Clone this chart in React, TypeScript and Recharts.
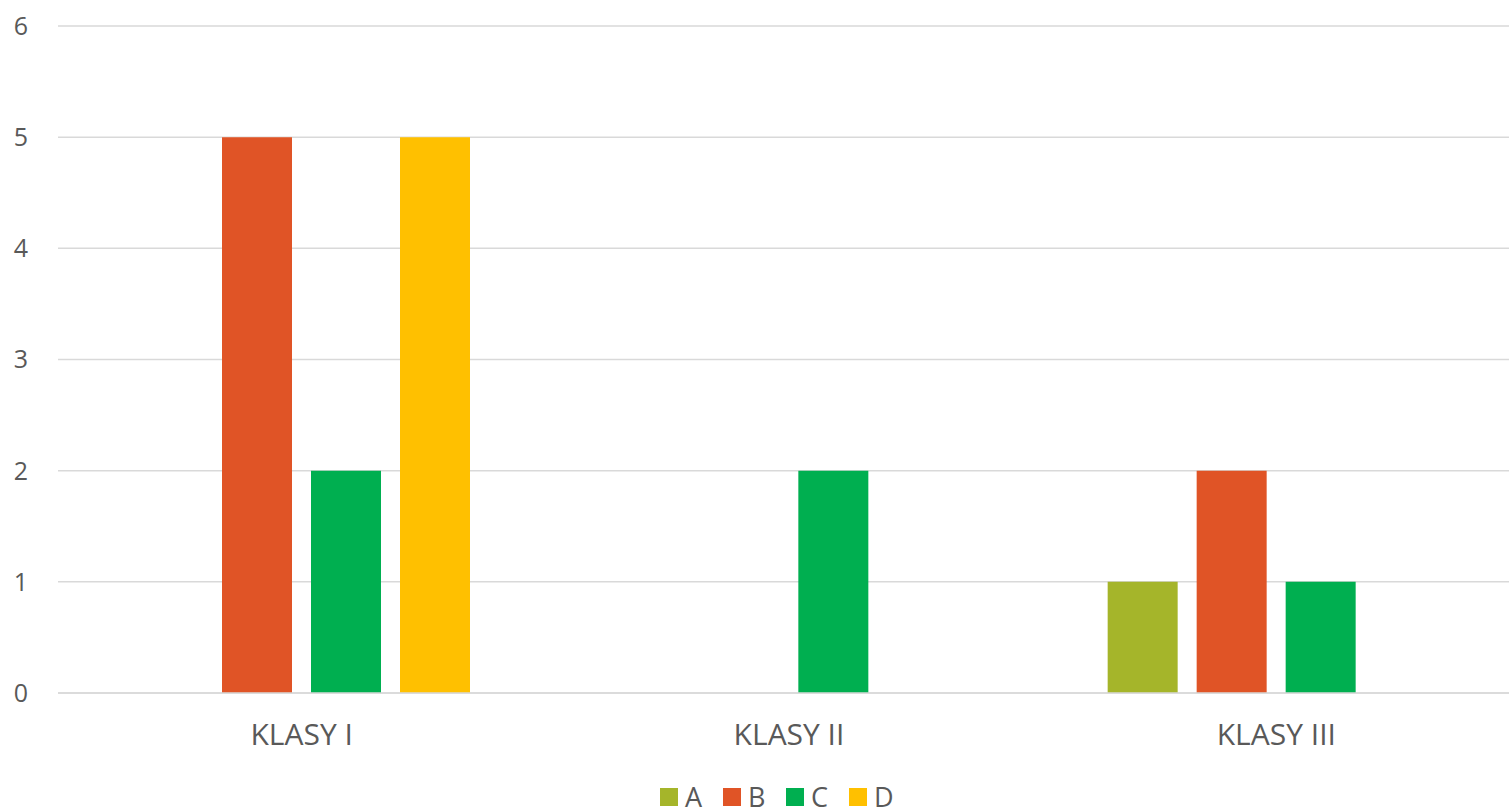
import React from 'react';
import { BarChart, Bar, XAxis, YAxis, CartesianGrid } from 'recharts';

const categories = ['KLASY I', 'KLASY II', 'KLASY III'];
const seriesA = [0, 0, 1];
const seriesB = [5, 0, 2];
const seriesC = [2, 2, 1];
const seriesD = [5, 0, 0];
const yTicks = [0, 1, 2, 3, 4, 5, 6];

const seriesNames = ['A', 'B', 'C', 'D'];
const seriesColors = ['#A5B52A', '#E05426', '#00AF50', '#FFC000'];

const data = categories.map((c, i) => ({
  name: c,
  A: seriesA[i],
  B: seriesB[i],
  C: seriesC[i],
  D: seriesD[i],
}));

const FONT = '"Open Sans", "Noto Sans", sans-serif';
const TEXT = '#595959';

export default function App() {
  return (
    <div style={{ position: 'absolute', left: 0, top: 0, width: 1509, height: 811, background: '#fff', overflow: 'hidden' }}>
      <BarChart
        width={1520}
        height={811}
        data={data}
        margin={{ top: 26, right: 0, left: 0, bottom: 25 }}
        barCategoryGap="15.6%"
        barGap={19}
      >
        <CartesianGrid vertical={false} stroke="#D9D9D9" strokeWidth={1.5} />
        <XAxis
          dataKey="name"
          height={93}
          tickLine={false}
          axisLine={{ stroke: '#D9D9D9', strokeWidth: 1.5 }}
          tickSize={0}
          tickMargin={31}
          tick={{ fill: TEXT, fontSize: 30, fontFamily: FONT }}
        />
        <YAxis
          width={58}
          domain={[0, 6]}
          ticks={yTicks}
          axisLine={false}
          tickLine={false}
          tickSize={0}
          tickMargin={30}
          tick={{ fill: TEXT, fontSize: 25, fontFamily: FONT }}
        />
        {seriesNames.map((n, i) => (
          <Bar key={n} dataKey={n} fill={seriesColors[i]} barSize={70} isAnimationActive={false} />
        ))}
      </BarChart>
      <div style={{ position: 'absolute', left: 660, top: 784, height: 26, display: 'flex', alignItems: 'center', fontFamily: FONT, color: TEXT, fontSize: 27, lineHeight: '26px' }}>
        {seriesNames.map((n, i) => (
          <div key={n} style={{ display: 'flex', alignItems: 'center', width: i < 3 ? 63 : 45 }}>
            <span style={{ display: 'inline-block', width: 18, height: 18, background: seriesColors[i], marginRight: 7, flex: 'none' }} />
            <span>{n}</span>
          </div>
        ))}
      </div>
    </div>
  );
}
